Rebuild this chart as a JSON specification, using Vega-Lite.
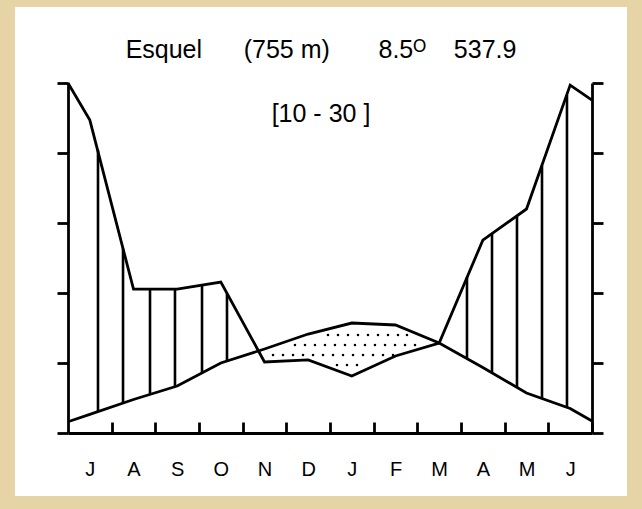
{
  "$schema": "https://vega.github.io/schema/vega-lite/v6.json",
  "width": 524,
  "height": 350,
  "autosize": {"type": "none"},
  "padding": {"left": 68, "top": 83, "right": 50, "bottom": 76},
  "background": "white",
  "config": {
    "view": {"stroke": null},
    "font": "Liberation Sans",
    "axis": {
      "grid": false,
      "title": null,
      "domainColor": "black",
      "tickColor": "black",
      "domainWidth": 2.8,
      "tickWidth": 2.8,
      "labelFont": "Liberation Sans",
      "labelColor": "black"
    }
  },
  "title": {
    "text": "Esquel\u00a0\u00a0\u00a0\u00a0\u00a0\u00a0(755 m)\u00a0\u00a0\u00a0\u00a0\u00a0\u00a0\u00a08.5\u1d3c\u00a0\u00a0\u00a0\u00a0537.9",
    "subtitle": "[10 - 30 ]",
    "anchor": "middle",
    "frame": "group",
    "font": "Liberation Sans",
    "subtitleFont": "Liberation Sans",
    "fontSize": 25,
    "subtitleFontSize": 25,
    "fontWeight": "normal",
    "color": "black",
    "subtitleColor": "black",
    "subtitlePadding": 39,
    "offset": -150,
    "dx": -9
  },
  "datasets": {
    "climate": [
      {"m": 0, "temp": 1.61, "precip": 100.0},
      {"m": 0.5, "temp": 2.66, "precip": 89.4},
      {"m": 1.5, "temp": 4.79, "precip": 41.1},
      {"m": 2.5, "temp": 6.71, "precip": 41.1},
      {"m": 3.5, "temp": 10.0, "precip": 43.1},
      {"m": 4.5, "temp": 12.0, "precip": 20.3},
      {"m": 5.5, "temp": 14.14, "precip": 20.9},
      {"m": 6.5, "temp": 15.71, "precip": 16.3},
      {"m": 7.5, "temp": 15.43, "precip": 22.0},
      {"m": 8.5, "temp": 12.86, "precip": 25.7},
      {"m": 9.5, "temp": 9.36, "precip": 55.1},
      {"m": 10.5, "temp": 5.71, "precip": 64.0},
      {"m": 11.5, "temp": 3.5, "precip": 99.4},
      {"m": 12, "temp": 1.71, "precip": 95.1}
    ],
    "hatch": [
      {"m": 0.687, "lo": 3.06, "hi": 40.4},
      {"m": 1.26, "lo": 4.28, "hi": 26.35},
      {"m": 1.878, "lo": 5.6, "hi": 20.55},
      {"m": 2.45, "lo": 6.61, "hi": 20.55},
      {"m": 3.069, "lo": 8.59, "hi": 21.1},
      {"m": 3.641, "lo": 10.28, "hi": 19.95},
      {"m": 9.137, "lo": 10.62, "hi": 22.26},
      {"m": 9.71, "lo": 8.59, "hi": 28.5},
      {"m": 10.282, "lo": 6.51, "hi": 31.0},
      {"m": 10.855, "lo": 4.94, "hi": 38.2},
      {"m": 11.427, "lo": 3.68, "hi": 48.3}
    ],
    "dots": [
      {"m": 5.954, "v": 14.0}, {"m": 6.183, "v": 14.0}, {"m": 6.412, "v": 14.0}, {"m": 6.641, "v": 14.0}, {"m": 6.87, "v": 14.0}, {"m": 7.099, "v": 14.0}, {"m": 7.328, "v": 14.0}, {"m": 7.557, "v": 14.0}, {"m": 7.763, "v": 14.0},
      {"m": 5.198, "v": 12.57}, {"m": 5.427, "v": 12.57}, {"m": 5.656, "v": 12.57}, {"m": 5.885, "v": 12.57}, {"m": 6.114, "v": 12.57}, {"m": 6.343, "v": 12.57}, {"m": 6.572, "v": 12.57}, {"m": 6.801, "v": 12.57}, {"m": 7.03, "v": 12.57}, {"m": 7.26, "v": 12.57}, {"m": 7.489, "v": 12.57}, {"m": 7.718, "v": 12.57}, {"m": 7.947, "v": 12.57},
      {"m": 4.695, "v": 11.14}, {"m": 4.924, "v": 11.14}, {"m": 5.153, "v": 11.14}, {"m": 5.382, "v": 11.14}, {"m": 5.611, "v": 11.14}, {"m": 5.84, "v": 11.14}, {"m": 6.069, "v": 11.14}, {"m": 6.298, "v": 11.14}, {"m": 6.527, "v": 11.14}, {"m": 6.756, "v": 11.14}, {"m": 6.985, "v": 11.14}, {"m": 7.214, "v": 11.14}, {"m": 7.443, "v": 11.14},
      {"m": 6.16, "v": 9.71}, {"m": 6.389, "v": 9.71}, {"m": 6.618, "v": 9.71}
    ]
  },
  "layer": [
    {
      "layer": [
        {
          "data": {"name": "climate"},
          "mark": {"type": "line", "color": "black", "strokeWidth": 2.8},
          "encoding": {
            "x": {
              "field": "m", "type": "quantitative",
              "title": null,
              "scale": {"domain": [0, 12], "nice": false, "zero": false},
              "axis": {
                "orient": "bottom",
                "values": [1, 2, 3, 4, 5, 6, 7, 8, 9, 10, 11, 12],
                "tickSize": -11,
                "labelExpr": "['J','A','S','O','N','D','J','F','M','A','M','J'][datum.value - 1]",
                "labelOffset": -21.83,
                "labelPadding": 53,
                "labelBaseline": "alphabetic",
                "labelFontSize": 20,
                "labelAngle": 0,
                "labelFlush": false,
                "labelOverlap": false,
                "title": null
              }
            },
            "y": {
              "field": "temp", "type": "quantitative",
              "title": null,
              "scale": {"domain": [0, 50], "nice": false},
              "axis": {"orient": "left", "values": [0, 10, 20, 30, 40, 50], "tickSize": 11, "labels": false, "title": null}
            }
          }
        },
        {
          "data": {"values": [{}]},
          "mark": {"type": "rect", "fill": null, "fillOpacity": 0, "stroke": "#E6D4A6", "strokeWidth": 30, "clip": false},
          "encoding": {
            "x": {"datum": -1.557, "type": "quantitative", "title": null, "scale": {"domain": [0, 12], "nice": false, "zero": false}},
            "x2": {"datum": 13.145},
            "y": {"datum": -11.14, "type": "quantitative", "title": null, "scale": {"domain": [0, 50], "nice": false}},
            "y2": {"datum": 63.0}
          }
        },
        {
          "data": {"name": "dots"},
          "mark": {"type": "point", "shape": "square", "filled": true, "size": 5, "color": "black", "opacity": 1},
          "encoding": {
            "x": {"field": "m", "type": "quantitative", "title": null, "scale": {"domain": [0, 12], "nice": false, "zero": false}},
            "y": {"field": "v", "type": "quantitative", "title": null, "scale": {"domain": [0, 50], "nice": false}}
          }
        },
        {
          "data": {"name": "hatch"},
          "mark": {"type": "rule", "color": "black", "strokeWidth": 2.6},
          "encoding": {
            "x": {"field": "m", "type": "quantitative", "title": null, "scale": {"domain": [0, 12], "nice": false, "zero": false}},
            "y": {"field": "lo", "type": "quantitative", "title": null, "scale": {"domain": [0, 50], "nice": false}},
            "y2": {"field": "hi"}
          }
        }
      ]
    },
    {
      "data": {"name": "climate"},
      "mark": {"type": "line", "color": "black", "strokeWidth": 2.8},
      "encoding": {
        "x": {"field": "m", "type": "quantitative", "title": null, "scale": {"domain": [0, 12], "nice": false, "zero": false}},
        "y": {
          "field": "precip", "type": "quantitative",
          "title": null,
          "scale": {"domain": [0, 100], "nice": false},
          "axis": {"orient": "right", "values": [0, 20, 40, 60, 80, 100], "tickSize": 11, "labels": false, "title": null}
        }
      }
    }
  ],
  "resolve": {"scale": {"y": "independent"}}
}
